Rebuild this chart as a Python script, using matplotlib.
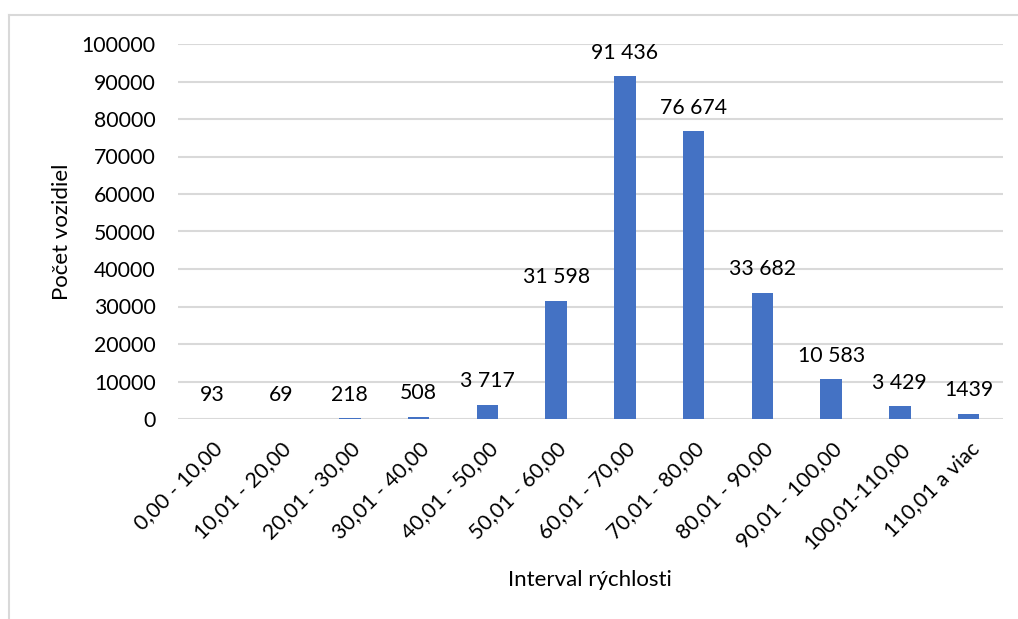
import matplotlib
matplotlib.use("Agg")
import matplotlib.pyplot as plt
from matplotlib.lines import Line2D

categories = ["0,00 - 10,00", "10,01 - 20,00", "20,01 - 30,00", "30,01 - 40,00",
              "40,01 - 50,00", "50,01 - 60,00", "60,01 - 70,00", "70,01 - 80,00",
              "80,01 - 90,00", "90,01 - 100,00", "100,01-110,00", "110,01 a viac"]
values = [93, 69, 218, 508, 3717, 31598, 91436, 76674, 33682, 10583, 3429, 1439]
value_labels = ["93", "69", "218", "508", "3 717", "31 598", "91 436", "76 674",
                "33 682", "10 583", "3 429", "1439"]
yticks = [0, 10000, 20000, 30000, 40000, 50000, 60000, 70000, 80000, 90000, 100000]

plt.rcParams['font.family'] = ['Lato', 'DejaVu Sans']

W, H = 1018, 619
fig = plt.figure(figsize=(W / 100, H / 100), dpi=100)
ax = fig.add_axes([178 / W, 1 - 419 / H, (1003 - 178) / W, (419 - 44) / H])

x = list(range(len(categories)))
ax.bar(x, values, width=0.31, color="#4472C4", zorder=3)
ax.set_xlim(-0.5, len(categories) - 0.5)
ax.set_ylim(0, 100000)
ax.set_yticks(yticks)
ax.set_yticklabels([str(v) for v in yticks], fontsize=15.3)
ax.set_xticks(x)
ax.set_xticklabels(categories, rotation=45, ha="right", rotation_mode="anchor", fontsize=15.3)
ax.tick_params(axis="both", length=0, colors="black")
ax.tick_params(axis="y", pad=16)
ax.tick_params(axis="x", pad=14)
for sp in ax.spines.values():
    sp.set_visible(False)
ax.grid(axis="y", color="#D9D9D9", linewidth=1.5, zorder=0)

for xi, v, lab in zip(x, values, value_labels):
    ax.annotate(lab, (xi, v), xytext=(0, 17), textcoords="offset points",
                ha="center", va="center", fontsize=15.3)

fig.text(62 / W, 1 - 232 / H, "Počet vozidiel", rotation=90, ha="center", va="center", fontsize=16)
fig.text(590 / W, 1 - 580 / H, "Interval rýchlosti", ha="center", va="center", fontsize=16)

# outer chart frame
fig.add_artist(Line2D([8.5 / W, 8.5 / W], [0, 1 - 14.5 / H], transform=fig.transFigure,
                      color="#D9D9D9", linewidth=1.5))
fig.add_artist(Line2D([8.5 / W, 1], [1 - 14.5 / H, 1 - 14.5 / H], transform=fig.transFigure,
                      color="#D9D9D9", linewidth=1.5))

fig.savefig("out.png", dpi=100, facecolor="white")
